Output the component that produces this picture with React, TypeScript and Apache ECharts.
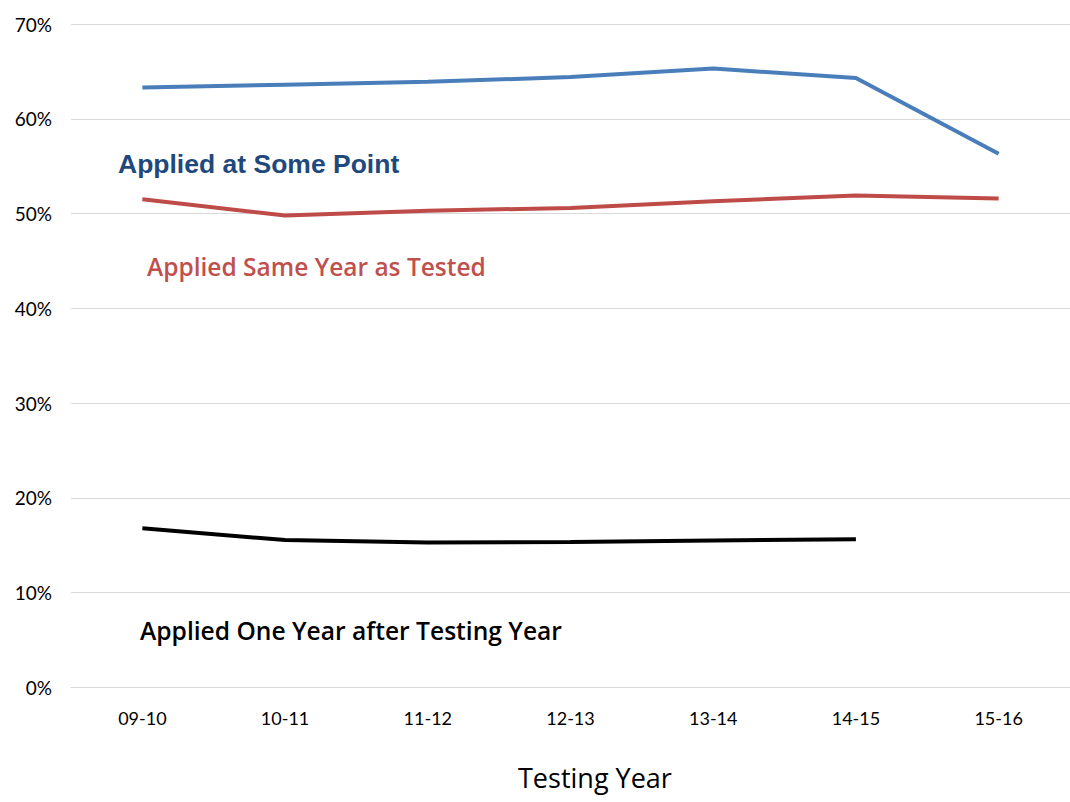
import React, { useEffect, useRef } from "react";
import * as echarts from "echarts";

const categories = ["09-10", "10-11", "11-12", "12-13", "13-14", "14-15", "15-16"];
const appliedSomePoint = [63.3, 63.6, 63.9, 64.4, 65.3, 64.3, 56.3];
const appliedSameYear = [51.5, 49.8, 50.3, 50.6, 51.3, 51.9, 51.6];
const appliedOneYearAfter = [16.8, 15.55, 15.3, 15.35, 15.5, 15.65, null];
const yTicks = { min: 0, max: 70, interval: 10 };

export default function App() {
  const ref = useRef<HTMLDivElement>(null);
  useEffect(() => {
    if (!ref.current) return;
    const chart = echarts.init(ref.current, null, { renderer: "svg" });
    const font = "Lato, 'Open Sans', sans-serif";
    chart.setOption({
      animation: false,
      backgroundColor: "#ffffff",
      grid: { left: 71, right: -14, top: 24, bottom: 114.5, containLabel: false },
      xAxis: {
        type: "category",
        data: categories,
        boundaryGap: true,
        axisLine: { show: true, lineStyle: { color: "#d9d9d9", width: 1 } },
        axisTick: { show: false },
        axisLabel: { color: "#000", fontFamily: font, fontSize: 18, margin: 21 },
      },
      yAxis: {
        type: "value",
        min: yTicks.min,
        max: yTicks.max,
        interval: yTicks.interval,
        axisLine: { show: false },
        axisTick: { show: false },
        splitLine: { lineStyle: { color: "#d9d9d9", width: 1 } },
        axisLabel: {
          color: "#000",
          fontFamily: font,
          fontSize: 19,
          margin: 19,
          formatter: "{value}%",
        },
      },
      series: [
        {
          type: "line",
          data: appliedSomePoint,
          symbol: "none",
          lineStyle: { color: "#4a7ebb", width: 4 },
        },
        {
          type: "line",
          data: appliedSameYear,
          symbol: "none",
          lineStyle: { color: "#be4b48", width: 4 },
        },
        {
          type: "line",
          data: appliedOneYearAfter,
          symbol: "none",
          lineStyle: { color: "#000000", width: 4 },
        },
      ],
      graphic: [
        {
          type: "text",
          left: 118,
          top: 150,
          style: {
            text: "Applied at Some Point",
            fill: "#1f497d",
            font: "bold 26.5px 'Liberation Sans', Arial, sans-serif",
          },
        },
        {
          type: "text",
          left: 147,
          top: 254,
          style: {
            text: "Applied Same Year as Tested",
            fill: "#c0504d",
            font: "600 24.5px 'Open Sans', sans-serif",
          },
        },
        {
          type: "text",
          left: 140,
          top: 618,
          style: {
            text: "Applied One Year after Testing Year",
            fill: "#000000",
            font: "600 24.6px 'Open Sans', sans-serif",
          },
        },
        {
          type: "text",
          left: 518,
          top: 764,
          style: {
            text: "Testing Year",
            fill: "#000000",
            font: "27px 'Open Sans', sans-serif",
          },
        },
      ],
    });
    return () => chart.dispose();
  }, []);
  return (
    <div
      ref={ref}
      style={{ position: "fixed", left: 0, top: 0, width: 1070, height: 802 }}
    />
  );
}
